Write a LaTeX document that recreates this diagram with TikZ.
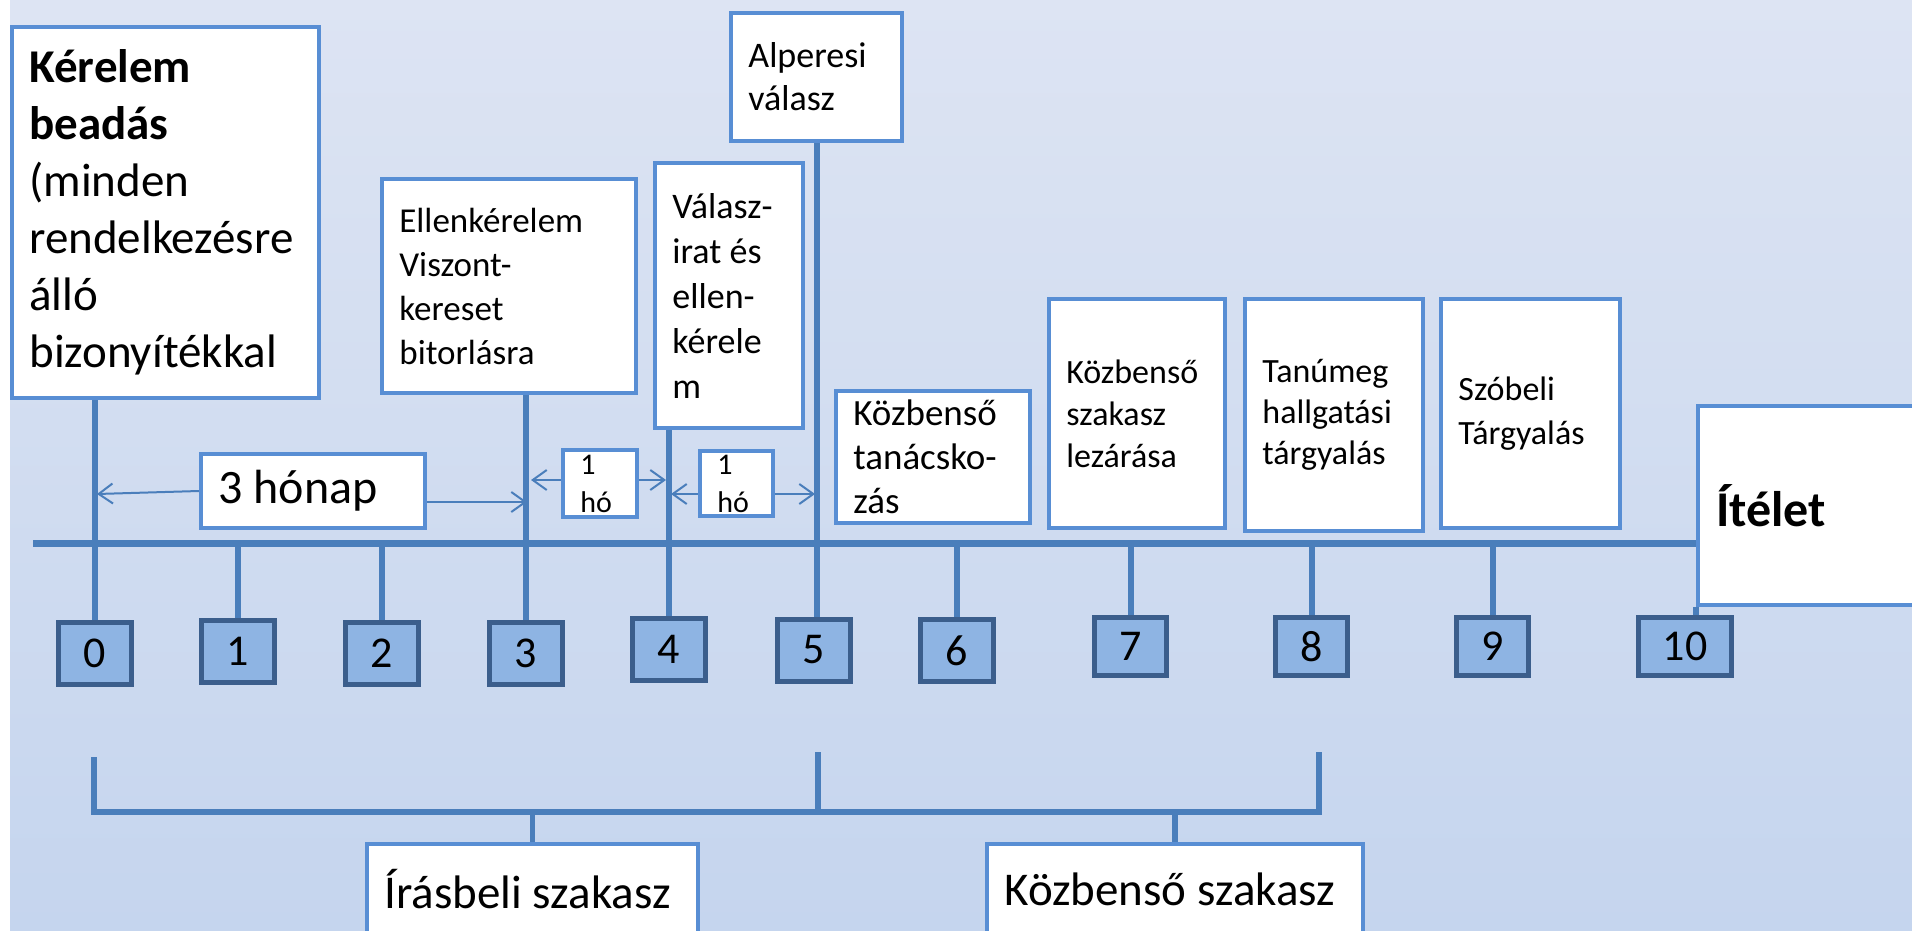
\documentclass[tikz,border=0pt]{standalone}
\usepackage{fontspec}
\setmainfont{Carlito}
\usetikzlibrary{arrows.meta}
\definecolor{bgtop}{RGB}{221,228,243}
\definecolor{bgbot}{RGB}{197,213,238}
\definecolor{boxblue}{RGB}{88,142,212}
\definecolor{lineblue}{RGB}{74,126,187}
\definecolor{numfill}{RGB}{142,180,227}
\definecolor{numdraw}{RGB}{59,94,140}
\pgfdeclarelayer{back}
\pgfdeclarelayer{lines}
\pgfsetlayers{back,lines,main}
\begin{document}
\begin{tikzpicture}[x=0.5pt,y=-0.5pt,
  wbox/.style 2 args={draw=boxblue, fill=white, line width=2pt, inner sep=0pt, minimum width=#1, minimum height=#2},
  numbox/.style 2 args={draw=numdraw, fill=numfill, line width=2.5pt, inner sep=0pt, minimum width=#1, minimum height=#2, font=\fontsize{22}{26}\selectfont},
  txt/.style={anchor=west, xshift=9.5pt, inner sep=0pt, align=left},
  conn/.style={draw=lineblue, line width=3pt},
  mainline/.style={draw=lineblue, line width=3.5pt},
  brk/.style={draw=lineblue, line width=2.6pt},
  arr/.style={draw=lineblue, line width=1pt, -{Straight Barb[length=7pt,width=10pt]}}
]
\useasboundingbox (0,0) rectangle (1912,931);
\clip (0,0) rectangle (1912,931);
\begin{pgfonlayer}{back}
\shade[top color=bgtop, bottom color=bgbot] (10,0) rectangle (1912,931);
\fill[white] (0,0) rectangle (10,931);
\end{pgfonlayer}

% white boxes
\node[wbox={153.5pt}{185.5pt}] (kerelem) at (165.5,212.5) {};
\node[wbox={127pt}{107pt}] (ellen) at (509,286) {};
\node[wbox={85.5pt}{64pt}] (alperesi) at (816.5,77) {};
\node[wbox={74pt}{132.5pt}] (valasz) at (729,295.5) {};
\node[wbox={97pt}{66pt}] (kozbtan) at (933,457) {};
\node[wbox={88pt}{114.5pt}] (kozbsz) at (1137,413.5) {};
\node[wbox={89pt}{116pt}] (tanu) at (1334,415) {};
\node[wbox={89.5pt}{114.5pt}] (szobeli) at (1530.5,413.5) {};
\node[wbox={116pt}{99.5pt}] (itelet) at (1814,505.5) {};
\node[wbox={112pt}{37pt}] (honap) at (313,491) {};
\node[wbox={37pt}{33.5pt}] (ho1) at (600,483.5) {};
\node[wbox={36.5pt}{32.5pt}] (ho2) at (736.5,483.5) {};
\node[wbox={165.5pt}{45pt}] (irasbeli) at (532.5,889) {};
\node[wbox={188pt}{45pt}] (kozbszak) at (1175,889) {};

% texts
\node[txt, font=\fontsize{23.5}{28.5}\selectfont] (t-kerelem) at (kerelem.west) {\textbf{Kérelem}\\\textbf{beadás}\\(minden\\rendelkezésre\\álló\\bizonyítékkal};
\node[txt, font=\fontsize{17.5}{22}\selectfont] (t-ellen) at (ellen.west) {Ellenkérelem\\Viszont-\\kereset\\bitorlásra};
\node[txt, font=\fontsize{18}{21.5}\selectfont] (t-alperesi) at (alperesi.west) {Alperesi\\válasz};
\node[txt, font=\fontsize{18}{22.5}\selectfont] (t-valasz) at (valasz.west) {Válasz-\\irat és\\ellen-\\kérele\\m};
\node[txt, font=\fontsize{18.5}{22}\selectfont] (t-kozbtan) at (kozbtan.west) {Közbenső\\tanácsko-\\zás};
\node[txt, font=\fontsize{17}{21}\selectfont] (t-kozbsz) at (kozbsz.west) {Közbenső\\szakasz\\lezárása};
\node[txt, font=\fontsize{17}{20.5}\selectfont] (t-tanu) at (tanu.west) {Tanúmeg\\hallgatási\\tárgyalás};
\node[txt, font=\fontsize{17}{22}\selectfont] (t-szobeli) at (szobeli.west) {Szóbeli\\Tárgyalás};
\node[txt, xshift=0.5pt, font=\fontsize{25}{30}\selectfont\bfseries] (t-itelet) at (itelet.west) {Ítélet};
\node[txt, font=\fontsize{24}{28}\selectfont] (t-honap) at (honap.west) {3 hónap};
\node[txt, font=\fontsize{15}{19}\selectfont] (t-ho1) at (ho1.west) {1\\hó};
\node[txt, font=\fontsize{15}{19}\selectfont] (t-ho2) at (ho2.west) {1\\hó};
\node[txt, font=\fontsize{23.5}{28}\selectfont] (t-irasbeli) at (irasbeli.west) {Írásbeli szakasz};
\node[txt, font=\fontsize{23.5}{28}\selectfont] (t-kozbszak) at (kozbszak.west) {Közbenső szakasz};

% number boxes
\node[numbox={36.5pt}{31pt}] (n0) at (95,653.5) {0};
\node[numbox={36.5pt}{31pt}] (n1) at (238,651.5) {1};
\node[numbox={36.5pt}{31pt}] (n2) at (382,653) {2};
\node[numbox={36.5pt}{31pt}] (n3) at (525.5,653.5) {3};
\node[numbox={36.5pt}{31pt}] (n4) at (669,649.5) {4};
\node[numbox={36.5pt}{31pt}] (n5) at (813.5,650) {5};
\node[numbox={36.5pt}{31pt}] (n6) at (956.5,650.5) {6};
\node[numbox={36pt}{29pt}] (n7) at (1130.5,646.5) {7};
\node[numbox={36pt}{29pt}] (n8) at (1311.5,646.5) {8};
\node[numbox={36pt}{29pt}] (n9) at (1492.5,646.5) {9};
\node[numbox={46.5pt}{29pt}] (n10) at (1685,646.5) {10};

\begin{pgfonlayer}{lines}
% main time line
\coordinate (mL) at (33,543);
\draw[mainline] (mL) -- (mL -| itelet.west);
% connectors to number boxes
\draw[conn] (kerelem.south -| n0.north) -- (n0.north);
\draw[conn] (mL -| n1.north) -- (n1.north);
\draw[conn] (mL -| n2.north) -- (n2.north);
\draw[conn] (ellen.south -| n3.north) -- (n3.north);
\draw[conn] (valasz.south -| n4.north) -- (n4.north);
\draw[conn] (alperesi.south) -- (alperesi.south |- n5.north);
\draw[conn] (mL -| n6.north) -- (n6.north);
\draw[conn] (mL -| n7.north) -- (n7.north);
\draw[conn] (mL -| n8.north) -- (n8.north);
\draw[conn] (mL -| n9.north) -- (n9.north);
\draw[conn] (itelet.south west) -- (itelet.south west |- n10.north);
% duration arrows
\coordinate (a0) at (97,494);
\draw[arr] (honap.west) -- (a0);
\coordinate (a3) at (527,502);
\draw[arr] (a3 -| honap.east) -- (a3);
\coordinate (a3b) at (531,480);
\draw[arr] (a3b -| ho1.west) -- (a3b);
\coordinate (a4a) at (666,480);
\draw[arr] (a4a -| ho1.east) -- (a4a);
\coordinate (a4b) at (671,494);
\draw[arr] (a4b -| ho2.west) -- (a4b);
\coordinate (a5) at (815,494);
\draw[arr] (a5 -| ho2.east) -- (a5);
% phase bracket
\coordinate (bL) at (94,757);
\coordinate (bLb) at (94,812);
\coordinate (bM) at (818,752);
\coordinate (bMb) at (818,812);
\coordinate (bR) at (1319,752);
\coordinate (bRb) at (1319,812);
\draw[brk] (bL) -- (bLb) -- (bRb) -- (bR);
\draw[brk] (bM) -- (bMb);
\draw[brk] (irasbeli.north) -- (irasbeli.north |- bLb);
\draw[brk] (kozbszak.north) -- (kozbszak.north |- bLb);
\end{pgfonlayer}
\end{tikzpicture}
\end{document}
